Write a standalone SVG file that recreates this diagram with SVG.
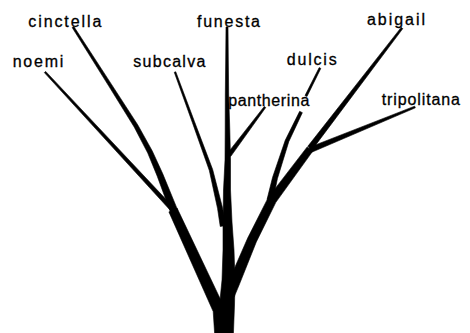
<svg xmlns="http://www.w3.org/2000/svg" width="470" height="333" viewBox="0 0 470 333">
<style>
.lbl{font-family:"Liberation Sans",Arial,sans-serif;font-size:16px;fill:#000;stroke:#000;stroke-width:0.3px;}
.br path{fill:#000;stroke:#000;stroke-width:0.6;stroke-linejoin:round;}
</style>
<rect x="0" y="0" width="470" height="333" fill="#fff"/>
<g id="connectors" class="br">
  <path id="edge-noemi" d="M45.66,71.39 L174.61,208.5 L171.39,211.5 L44.34,72.61 Z"/>
  <path id="edge-cinctella" d="M73.84,26.46 L111.35,84.14 L137.81,124.94 L152.25,150.91 L162.77,173.86 L177.5,209.64 L170.5,212.36 L157.23,176.14 L147.75,153.09 L134.19,127.06 L108.65,85.86 L72.16,27.54 Z"/>
  <path id="edge-left" d="M177.09,208.12 L224.79,308.43 L226.97,340 L215.03,340 L213.21,311.57 L168.91,211.88 Z"/>
  <path id="edge-subcalva" d="M175.75,71.72 L194.48,121.6 L212.67,169.5 L222.45,207.51 L225.76,225.54 L220.24,226.46 L217.55,208.49 L209.33,170.5 L192.32,122.4 L174.25,72.28 Z"/>
  <path id="edge-funesta" d="M226,27 L228,27 L228.3,60 L228.7,95 L229.8,130 L230.5,160 L230.5,190 L232,222 L234,250 L235,280 L234.5,305 L233,345 L215,345 L219.5,305 L222,280 L223,250 L223,222 L223.5,190 L225,160 L225.2,130 L225.3,95 L225.7,60 Z"/>
  <path id="edge-pantherina" d="M265.72,107.54 L230.8,156.35 L227.2,153.65 L264.28,106.46 Z"/>
  <path id="edge-dulcis-tip" d="M320.8,68.4 L306.98,96.49 L305.02,95.51 L319.2,67.6 Z"/>
  <path id="edge-dulcis" d="M302.35,112.65 L288.76,141.71 L277.41,178.66 L272.93,200.67 L267.07,199.33 L272.59,177.34 L285.24,140.29 L299.65,111.35 Z"/>
  <path id="edge-abigail" d="M402.79,28.61 L312.18,149.67 L307.82,146.33 L401.21,27.39 Z"/>
  <path id="edge-tripolitana" d="M415.34,107.83 L311.04,152.54 L308.96,147.46 L414.66,106.17 Z"/>
  <path id="edge-right" d="M312.81,151.09 L275.83,202.36 L256.31,241.98 L239.08,285.12 L234.08,297.12 L223.92,292.88 L228.92,280.88 L247.69,238.02 L268.17,197.64 L307.19,146.91 Z"/>
</g>
<g id="node-cinctella"><text class="lbl" x="28.3" y="27" textLength="73" lengthAdjust="spacing">cinctella</text></g>
<g id="node-funesta"><text class="lbl" x="197" y="27" textLength="63" lengthAdjust="spacing">funesta</text></g>
<g id="node-abigail"><text class="lbl" x="367" y="25" textLength="58" lengthAdjust="spacing">abigail</text></g>
<g id="node-noemi"><text class="lbl" x="12.7" y="67" textLength="50.6" lengthAdjust="spacing">noemi</text></g>
<g id="node-subcalva"><text class="lbl" x="133.3" y="67" textLength="72" lengthAdjust="spacing">subcalva</text></g>
<g id="node-dulcis"><text class="lbl" x="286.7" y="65" textLength="50" lengthAdjust="spacing">dulcis</text></g>
<g id="node-pantherina"><text class="lbl" x="228.3" y="106" textLength="81" lengthAdjust="spacing">pantherina</text></g>
<g id="node-tripolitana"><text class="lbl" x="381.7" y="104.5" textLength="78.3" lengthAdjust="spacing">tripolitana</text></g>
</svg>
